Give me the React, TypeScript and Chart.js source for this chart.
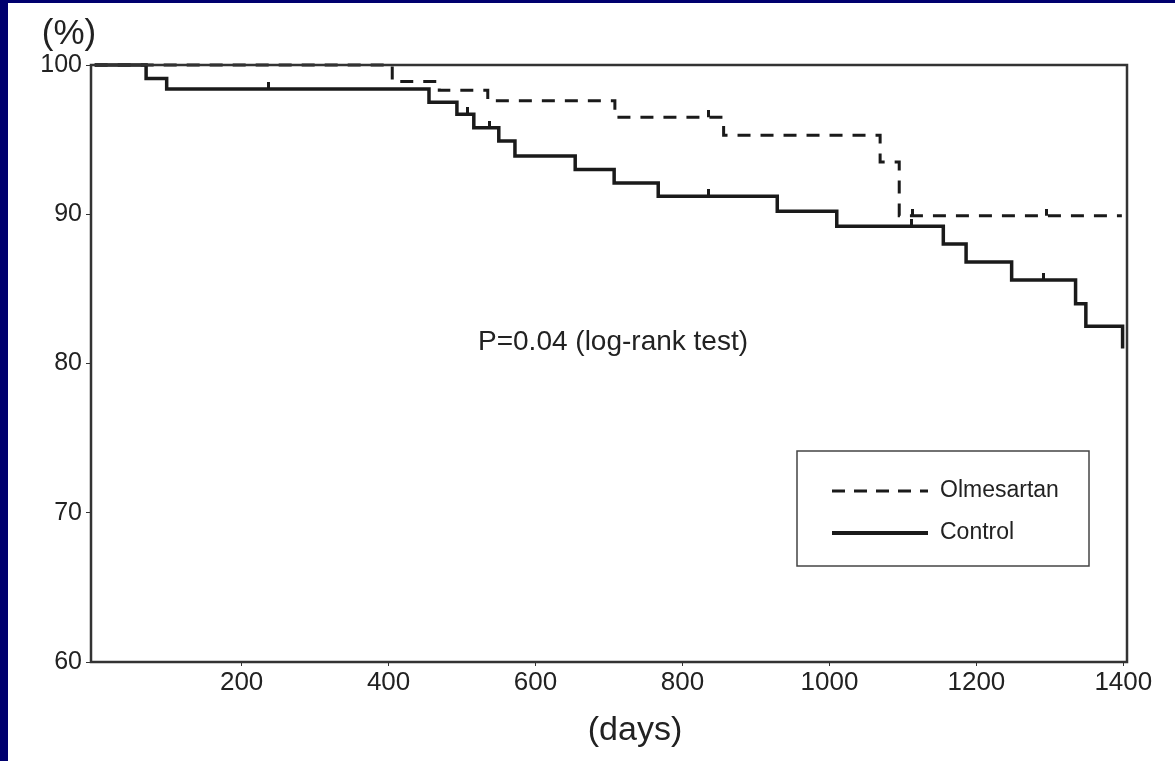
import React, { useEffect, useRef } from "react";
import { Chart, registerables } from "chart.js";

Chart.register(...registerables);

// Axis ticks
const xTickValues = [200, 400, 600, 800, 1000, 1200, 1400];
const yTickValues = [60, 70, 80, 90, 100];

// Olmesartan: day of each step and survival (%) after the step
const olmDays = [0, 405, 469, 535, 708, 856, 1069, 1095, 1398];
const olmSurv = [100, 98.9, 98.3, 97.6, 96.5, 95.3, 93.5, 89.9, 89.9];
const olmCensorDays = [836, 1113, 1295];
const olmCensorSurv = [96.5, 89.9, 89.9];

// Control: day of each step and survival (%) after the step
const ctlDays = [0, 70, 98, 455, 493, 516, 550, 572, 654, 707, 767, 929, 1010, 1155, 1186, 1248, 1335, 1349, 1399];
const ctlSurv = [100, 99.1, 98.4, 97.5, 96.7, 95.8, 94.9, 93.9, 93.0, 92.1, 91.2, 90.2, 89.2, 88.0, 86.8, 85.6, 84.0, 82.5, 81.0];
const ctlCensorDays = [236, 508, 537, 836, 1112, 1291];
const ctlCensorSurv = [98.4, 96.7, 95.8, 91.2, 89.2, 85.6];

const seriesNames = ["Olmesartan", "Control"];
const pValueText = "P=0.04 (log-rank test)";
const yUnitText = "(%)";
const xUnitText = "(days)";

const FONT = "'Liberation Sans', Arial, Helvetica, sans-serif";
const INK = "#1a1a1a";

const toPoints = (xs: number[], ys: number[]) => xs.map((x, i) => ({ x, y: ys[i] }));

// Censor tick: a short vertical stroke rising above the curve
function makeCensorMark(): HTMLCanvasElement {
  const c = document.createElement("canvas");
  c.width = 3;
  c.height = 14;
  const g = c.getContext("2d")!;
  g.fillStyle = INK;
  g.fillRect(0, 0, 3, 7);
  return c;
}

const framePlugin = {
  id: "frameAndNotes",
  afterDraw(chart: any) {
    const { ctx, chartArea } = chart;
    const { left, top, right, bottom } = chartArea;
    ctx.save();
    // plot frame
    ctx.strokeStyle = "#333";
    ctx.lineWidth = 2.5;
    ctx.strokeRect(left, top, right - left, bottom - top);

    ctx.fillStyle = "#222";
    ctx.textBaseline = "middle";
    // unit labels
    ctx.font = `35px ${FONT}`;
    ctx.textAlign = "center";
    ctx.fillText(yUnitText, 61, 31);
    ctx.font = `34px ${FONT}`;
    ctx.fillText(xUnitText, 627, 728);
    // p-value
    ctx.font = `28px ${FONT}`;
    ctx.textAlign = "left";
    ctx.fillText(pValueText, 470, 339);

    // legend box
    ctx.strokeStyle = "#444";
    ctx.lineWidth = 1.5;
    ctx.strokeRect(789, 448, 292, 115);
    ctx.strokeStyle = INK;
    ctx.lineWidth = 3;
    ctx.setLineDash([13, 9]);
    ctx.beginPath();
    ctx.moveTo(824, 488);
    ctx.lineTo(920, 488);
    ctx.stroke();
    ctx.setLineDash([]);
    ctx.lineWidth = 4;
    ctx.beginPath();
    ctx.moveTo(824, 530);
    ctx.lineTo(920, 530);
    ctx.stroke();
    ctx.font = `23px ${FONT}`;
    ctx.fillStyle = "#222";
    ctx.fillText(seriesNames[0], 932, 488);
    ctx.fillText(seriesNames[1], 932, 530);
    ctx.restore();
  },
};

export default function App() {
  const ref = useRef<HTMLCanvasElement | null>(null);

  useEffect(() => {
    if (!ref.current) return;
    const mark = makeCensorMark();
    const chart = new Chart(ref.current, {
      type: "line",
      data: {
        datasets: [
          {
            label: seriesNames[0],
            data: toPoints(olmDays, olmSurv),
            stepped: true,
            borderColor: INK,
            borderWidth: 3,
            borderDash: [13, 10],
            pointRadius: 0,
            fill: false,
            clip: false as any,
          },
          {
            label: seriesNames[1],
            data: toPoints(ctlDays, ctlSurv),
            stepped: true,
            borderColor: INK,
            borderWidth: 3.5,
            pointRadius: 0,
            fill: false,
            clip: false as any,
          },
          {
            type: "scatter" as any,
            label: seriesNames[0] + " censored",
            data: toPoints(olmCensorDays, olmCensorSurv),
            pointStyle: mark as any,
            pointRadius: 7,
            showLine: false,
          },
          {
            type: "scatter" as any,
            label: seriesNames[1] + " censored",
            data: toPoints(ctlCensorDays, ctlCensorSurv),
            pointStyle: mark as any,
            pointRadius: 7,
            showLine: false,
          },
        ],
      },
      options: {
        responsive: false,
        animation: false,
        devicePixelRatio: 1,
        layout: { padding: { left: 0, top: 62, right: 48, bottom: 0 } },
        plugins: { legend: { display: false }, tooltip: { enabled: false } },
        scales: {
          x: {
            type: "linear",
            min: -5,
            max: 1405,
            afterBuildTicks: (axis: any) => {
              axis.ticks = xTickValues.map((v) => ({ value: v }));
            },
            afterFit: (scale: any) => {
              scale.height = 99;
            },
            grid: { drawOnChartArea: false, drawTicks: true, tickLength: 4, color: "#333" },
            border: { display: false },
            ticks: {
              color: "#222",
              font: { family: FONT, size: 26 },
              padding: 1,
              maxRotation: 0,
              autoSkip: false,
              callback: (v: any) => String(v),
            },
          },
          y: {
            type: "linear",
            min: 60,
            max: 100,
            afterBuildTicks: (axis: any) => {
              axis.ticks = yTickValues.map((v) => ({ value: v }));
            },
            afterFit: (scale: any) => {
              scale.width = 83;
            },
            grid: { drawOnChartArea: false, drawTicks: true, tickLength: 5, color: "#333" },
            border: { display: false },
            ticks: {
              color: "#222",
              font: { family: FONT, size: 25 },
              padding: 4,
              callback: (v: any) => String(v),
            },
          },
        },
      },
      plugins: [framePlugin],
    });
    return () => chart.destroy();
  }, []);

  return (
    <div
      style={{
        position: "fixed",
        left: 0,
        top: 0,
        width: 1175,
        height: 761,
        background: "#00006e",
        overflow: "hidden",
      }}
    >
      <div style={{ position: "absolute", left: 8, top: 3, width: 1167, height: 758, background: "#fff" }}>
        <canvas ref={ref} width={1167} height={758} style={{ display: "block" }} />
      </div>
    </div>
  );
}
